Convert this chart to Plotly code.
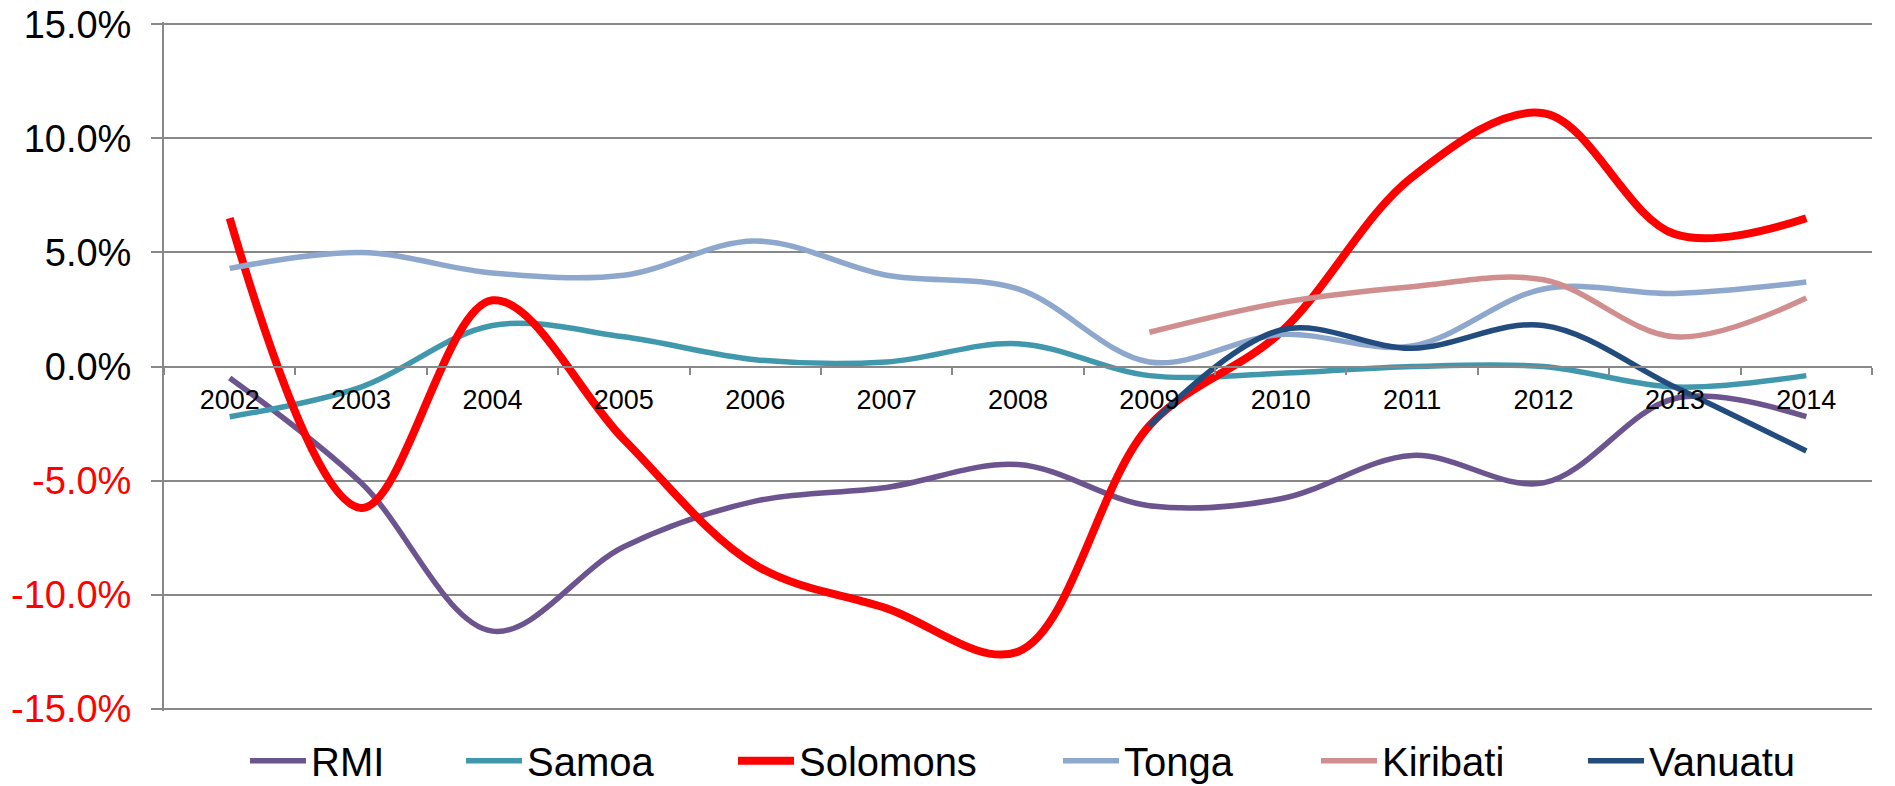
import plotly.graph_objects as go

years = ["2002", "2003", "2004", "2005", "2006", "2007", "2008",
         "2009", "2010", "2011", "2012", "2013", "2014"]

rmi = [-0.5, -5.1, -11.6, -7.9, -5.9, -5.3, -4.3, -6.1, -5.8, -3.9, -5.1, -1.4, -2.2]
samoa = [-2.2, -0.9, 1.8, 1.3, 0.3, 0.2, 1.0, -0.4, -0.3, 0.0, 0.0, -0.9, -0.4]
solomons = [6.5, -6.2, 2.9, -3.2, -8.7, -10.6, -12.5, -2.6, 1.5, 8.3, 11.1, 5.8, 6.5]
tonga = [4.3, 5.0, 4.1, 4.0, 5.5, 4.0, 3.4, 0.2, 1.4, 0.9, 3.4, 3.2, 3.7]
kiribati = [None, None, None, None, None, None, None, 1.5, 2.8, 3.5, 3.8, 1.3, 3.0]
vanuatu = [None, None, None, None, None, None, None, -2.6, 1.6, 0.8, 1.8, -0.9, -3.7]

series_names = ["RMI", "Samoa", "Solomons", "Tonga", "Kiribati", "Vanuatu"]
series_values = [rmi, samoa, solomons, tonga, kiribati, vanuatu]
series_colors = ["#6C548E", "#4198AD", "#FF0000", "#8EA7CD", "#D08E8E", "#234C7E"]
series_widths = [5.5, 5.5, 8, 5.5, 5.5, 5.5]

# legend text start positions (page px) as laid out in the reference
legend_text_px = [313, 529, 801, 1126, 1384, 1651]
LEG_SYMBOL_W = 56

y_ticks = [-15, -10, -5, 0, 5, 10, 15]
y_tick_labels = []
for v in y_ticks:
    s = f"{v:.1f}%"
    if v < 0:
        s = f'<span style="color:#FF0000">{s}</span>'
    y_tick_labels.append(s)

# the page body has an 8px default margin; layout is compensated for it
OFF = 8
W, H = 1887, 778
PAD = 0.1                      # small range padding so edge gridlines are drawn
unit_px = 685 / 30.0
ML = 164 - OFF
MR = W - (1872 - OFF)
MT = 24 - OFF - PAD * unit_px
MB = H - (709 - OFF) - PAD * unit_px
plot_w = W - ML - MR
plot_h = H - MT - MB
plot_bottom = H - MB

fig = go.Figure()
legend_layouts = {}
for i, (name, vals, col, w) in enumerate(zip(series_names, series_values, series_colors, series_widths)):
    lid = "legend" if i == 0 else f"legend{i + 1}"
    fig.add_trace(go.Scatter(
        x=years, y=vals, name=name, mode="lines",
        line=dict(color=col, width=w, shape="spline", smoothing=1.0),
        connectgaps=False, legend=lid,
    ))
    legend_layouts[lid] = dict(
        orientation="h",
        itemwidth=LEG_SYMBOL_W,
        x=(legend_text_px[i] - OFF - (LEG_SYMBOL_W + 12) - ML) / plot_w, xanchor="left",
        y=-(763 - OFF - 2 - plot_bottom) / plot_h, yanchor="middle",
        font=dict(size=40, color="black", family="Liberation Sans, Arial, sans-serif"),
        bgcolor="rgba(0,0,0,0)", borderwidth=0,
    )

fig.update_layout(
    width=W, height=H,
    paper_bgcolor="white", plot_bgcolor="white",
    margin=dict(l=ML, r=MR, t=MT, b=MB, pad=0, autoexpand=False),
    font=dict(family="Liberation Sans, Arial, sans-serif", color="black"),
    showlegend=True,
    xaxis=dict(
        type="category", range=[-0.5, 12.5],
        anchor="free", position=0.5,
        showline=True, linecolor="#888888", linewidth=2,
        showgrid=False, zeroline=False,
        ticks="outside", tickson="boundaries", ticklen=7, tickcolor="#888888", tickwidth=2,
        tickfont=dict(size=27, color="black"),
        ticklabelstandoff=9,
        ticklabeloverflow="allow",
    ),
    yaxis=dict(
        range=[-15 - PAD, 15 + PAD],
        tickvals=y_ticks, ticktext=y_tick_labels,
        showline=True, linecolor="#888888", linewidth=2,
        showgrid=True, gridcolor="#888888", gridwidth=2,
        zeroline=False,
        ticks="outside", ticklen=11, tickcolor="#888888", tickwidth=2,
        tickfont=dict(size=38, color="black"),
        ticklabelstandoff=12,
        ticklabeloverflow="allow",
    ),
    **legend_layouts,
)

fig.write_html("out.html")
